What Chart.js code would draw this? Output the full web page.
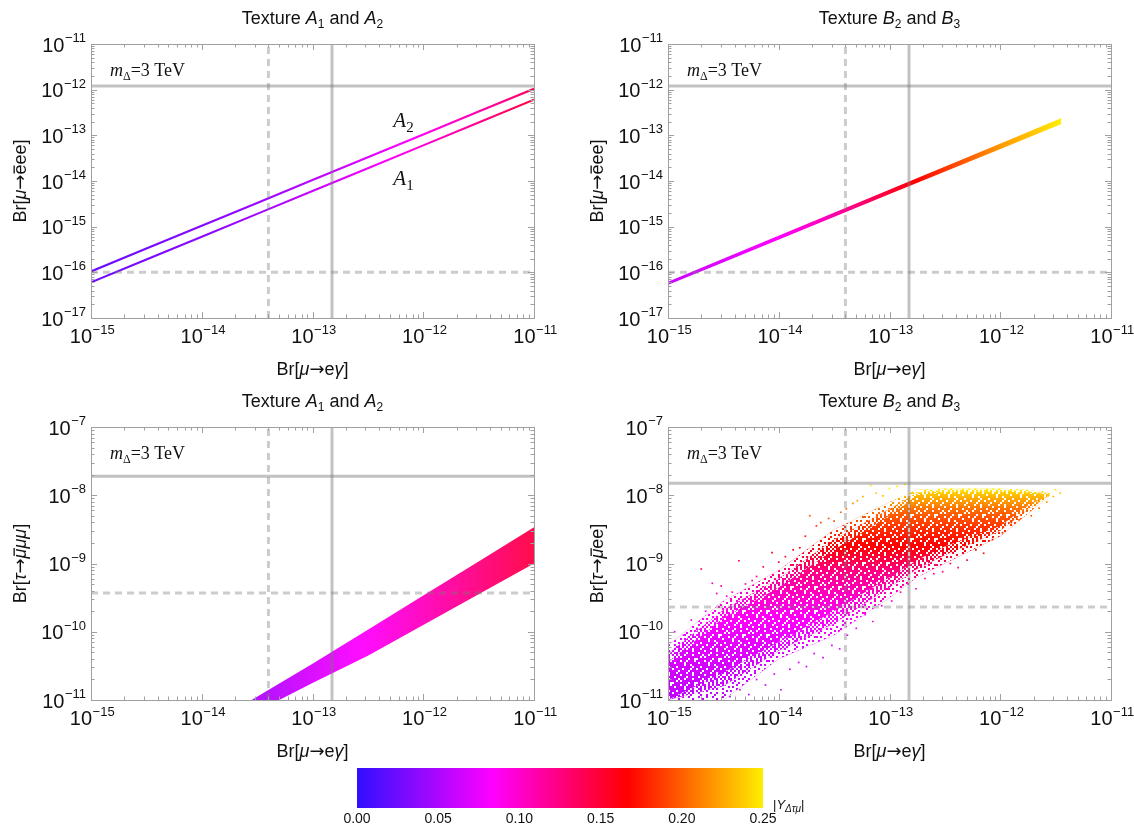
<!DOCTYPE html>
<html><head><meta charset="utf-8">
<script src="https://cdn.jsdelivr.net/npm/chart.js@4.4.1/dist/chart.umd.min.js"></script>
<style>
html,body{margin:0;padding:0;background:#fff;}
#wrap{position:relative;width:1134px;height:825px;overflow:hidden;background:#fff;}
#wrap canvas{position:absolute;left:0;top:0;}
#cb{left:340px !important;top:755px !important;}
</style></head><body><div id="wrap">
<canvas id="c1" width="1134" height="825"></canvas>
<canvas id="c2" width="1134" height="825"></canvas>
<canvas id="c3" width="1134" height="825"></canvas>
<canvas id="c4" width="1134" height="825"></canvas>
<canvas id="cb" width="480" height="70"></canvas>
</div>
<script>
// ================= DATA (log10 exponents unless noted) =================
const xDecades = [-15, -14, -13, -12, -11];
const yDecadesTop = [-17, -16, -15, -14, -13, -12, -11];
const yDecadesBottom = [-11, -10, -9, -8, -7];
const colorbarTicks = [0, 0.05, 0.10, 0.15, 0.20, 0.25];

// experimental bounds (absolute values)
const megBound = 1.5e-13, megFuture = 4.0e-14;            // Br[mu -> e gamma]
const mu3eBound = 1.2e-12, mu3eFuture = 1.0e-16;          // Br[mu -> eee]
const tau3muBound = 1.9e-8, tau3muFuture = 3.7e-10;       // Br[tau -> 3 mu]
const taumueeBound = 1.5e-8, taumueeFuture = 2.3e-10;     // Br[tau -> mu e e]

// Panel 1: textures A1, A2 (thin lines)
const aLogX  = [-15, -14.5, -14, -13.5, -13, -12.5, -12, -11.5, -11];
const a2LogY = [-15.98, -15.48, -14.98, -14.48, -13.98, -13.48, -12.98, -12.48, -11.98];
const a2Yuk  = [0.023, 0.028, 0.034, 0.042, 0.055, 0.070, 0.088, 0.110, 0.138];
const a1LogY = [-16.22, -15.72, -15.22, -14.72, -14.22, -13.72, -13.22, -12.72, -12.22];
const a1Yuk  = [0.025, 0.030, 0.037, 0.046, 0.060, 0.077, 0.097, 0.120, 0.148];
const labelA2 = [-12.27, -12.82];
const labelA1 = [-12.27, -14.09];

// Panel 2: textures B2, B3 (narrow band)
const trLogX   = [-15, -14.5, -14, -13.5, -13, -12.5, -12, -11.45];
const trUpper  = [-16.22, -15.715, -15.212, -14.71, -14.205, -13.70, -13.195, -12.64];
const trLower  = [-16.26, -15.765, -15.268, -14.77, -14.275, -13.78, -13.285, -12.74];
const trYuk    = [0.062, 0.070, 0.085, 0.110, 0.150, 0.185, 0.220, 0.250];

// Panel 3: textures A1, A2 (dense band, tau -> 3 mu)
const blLogX  = [-13.55, -13.3, -13, -12.5, -12, -11.5, -11];
const blUpper = [-11.0, -10.76, -10.47, -9.97, -9.47, -8.97, -8.47];
const blLower = [-11.0, -11.0, -10.75, -10.35, -9.90, -9.45, -9.00];
const blYuk   = [0.050, 0.057, 0.068, 0.085, 0.105, 0.125, 0.145];

// Panel 4: textures B2, B3 (scatter cloud, tau -> mu e e): outer / middle / core envelopes
const brLogX       = [-15, -14.5, -14, -13.5, -13, -12.75, -12.5, -12, -11.75, -11.55];
const brOuterUpper = [-10.2, -9.55, -9.1, -8.5, -8.1, -7.92, -7.9, -7.9, -7.92, -7.97];
const brOuterLower = [-11, -11, -10.4, -10.05, -9.5, -9.2, -9.0, -8.6, -8.27, -8.0];
const brMidUpper   = [-10.32, -9.68, -9.22, -8.65, -8.2, -7.96, -7.92, -7.92, -7.94, -7.98];
const brMidLower   = [-11, -10.8, -10.28, -9.88, -9.35, -9.08, -8.88, -8.52, -8.21, -8.0];
const brCoreUpper  = [-10.45, -9.8, -9.35, -8.8, -8.3, -8.0, -7.95, -7.95, -7.96, -7.99];
const brCoreLower  = [-11, -10.6, -10.15, -9.7, -9.2, -8.95, -8.75, -8.45, -8.15, -8.0];
const brColorLogY  = [-11, -10.5, -10, -9.6, -9.1, -8.8, -8.5, -8.2, -8.0, -7.9];
const brColorYuk   = [0.058, 0.066, 0.077, 0.094, 0.125, 0.162, 0.182, 0.206, 0.233, 0.250];
const brScatter = [
 [-14.94,-10.0],[-14.86,-10.05],[-14.79,-9.83],[-14.74,-9.95],[-14.7,-9.08],[-14.66,-9.7],[-14.6,-9.29],
 [-14.56,-9.44],[-14.52,-9.33],[-14.47,-9.48],[-14.42,-9.42],[-14.36,-8.96],[-14.3,-9.3],[-14.24,-9.25],
 [-14.2,-9.19],[-14.14,-9.05],[-14.06,-8.84],[-14.0,-8.98],[-13.94,-8.9],[-13.87,-8.8],[-13.81,-8.77],
 [-13.76,-8.6],[-13.72,-8.30],[-13.66,-8.45],[-13.62,-8.4],[-13.55,-8.34],[-13.5,-8.38],[-13.44,-8.25],
 [-13.39,-8.2],[-13.33,-8.12],[-13.29,-8.08],[-13.24,-8.02],[-13.17,-7.86],[-13.12,-7.97],[-13.06,-8.01],
 [-13.0,-7.9],[-12.93,-7.87],[-12.86,-7.84],
 [-14.44,-10.95],[-14.35,-10.85],[-14.27,-10.92],[-14.2,-10.7],[-14.12,-10.78],[-14.04,-10.62],[-13.98,-10.85],
 [-13.9,-10.55],[-13.82,-10.45],[-13.75,-10.51],[-13.68,-10.32],[-13.6,-10.38],[-13.52,-10.2],[-13.45,-10.25],
 [-13.38,-10.05],[-13.3,-9.95],[-13.22,-9.75],[-13.15,-9.85],[-13.07,-9.62],[-12.98,-9.55],[-12.9,-9.42],
 [-12.83,-9.3],[-12.76,-9.37],[-12.68,-9.22],[-12.6,-9.15],[-12.52,-9.12],[-12.45,-9.0],[-12.38,-9.06],
 [-12.3,-8.95],[-12.22,-8.8],[-12.15,-8.85],[-12.07,-8.65],[-11.98,-8.55],[-11.9,-8.4],[-11.83,-8.36],
 [-11.72,-8.3],[-11.65,-8.19],[-11.58,-8.1],[-11.52,-8.02],[-11.46,-7.97],[-11.5,-7.92],[-11.62,-7.95]
];

// ================= styling helpers =================
const W = 1134, H = 825;
const SANS = '"Liberation Sans", Arial, sans-serif';
const SERIF = '"Liberation Serif", "Times New Roman", serif';
const ARROWF = '18px "DejaVu Sans", sans-serif';
const P = e => Math.pow(10, e);
const cmapStops = [[0, [48, 16, 255]], [0.25/3, [255, 0, 255]], [0.5/3, [255, 0, 0]], [0.25, [255, 238, 0]]];
function colorOf(v, a) {
  if (a === undefined) a = 1;
  v = Math.max(0, Math.min(0.25, v));
  for (let i = 0; i < cmapStops.length - 1; i++) {
    const v0 = cmapStops[i][0], c0 = cmapStops[i][1], v1 = cmapStops[i+1][0], c1 = cmapStops[i+1][1];
    if (v <= v1 + 1e-12) {
      const t = (v - v0) / (v1 - v0);
      const c = c0.map((c, k) => Math.round(c + (c1[k] - c) * t));
      return `rgba(${c[0]},${c[1]},${c[2]},${a})`;
    }
  }
  return `rgba(255,238,0,${a})`;
}
function lerpTable(xs, ys, x) {
  if (x <= xs[0]) return ys[0];
  for (let i = 0; i < xs.length - 1; i++) {
    if (x <= xs[i+1]) { const t = (x - xs[i]) / (xs[i+1] - xs[i]); return ys[i] + (ys[i+1] - ys[i]) * t; }
  }
  return ys[ys.length - 1];
}
function hGrad(chart, logXs, vals, alpha) {
  const ca = chart.chartArea;
  if (!ca) return colorOf(vals[0], alpha);
  const xs = chart.scales.x;
  const p0 = xs.getPixelForValue(P(logXs[0])), p1 = xs.getPixelForValue(P(logXs[logXs.length - 1]));
  const g = chart.ctx.createLinearGradient(p0, 0, p1, 0);
  for (let i = 0; i < logXs.length - 1; i++) {
    for (let s = 0; s < 6; s++) {
      const lx = logXs[i] + (logXs[i+1] - logXs[i]) * s / 6;
      const v = vals[i] + (vals[i+1] - vals[i]) * s / 6;
      g.addColorStop(Math.min(1, Math.max(0, (xs.getPixelForValue(P(lx)) - p0) / (p1 - p0))), colorOf(v, alpha));
    }
  }
  g.addColorStop(1, colorOf(vals[vals.length - 1], alpha));
  return g;
}
function vGradBR(chart, alpha) {
  const ca = chart.chartArea;
  if (!ca) return colorOf(0.15, alpha);
  const ys = chart.scales.y;
  const top = brColorLogY[brColorLogY.length - 1], bot = brColorLogY[0];
  const p0 = ys.getPixelForValue(P(top)), p1 = ys.getPixelForValue(P(bot));
  const g = chart.ctx.createLinearGradient(0, p0, 0, p1);
  for (let k = 0; k <= 60; k++) {
    const ly = top + (bot - top) * k / 60;
    g.addColorStop((ys.getPixelForValue(P(ly)) - p0) / (p1 - p0), colorOf(lerpTable(brColorLogY, brColorYuk, ly), alpha));
  }
  return g;
}
// white speckle textures (style only): 'x' = white cell, '.' = see-through
const speckleOuter = ["x.xxx.xx.xxx","xxx.xxxxxx.x",".xxxx.x.xxxx","xx.xxxxxx.x.","x.xx.xx.xxxx","xxxxxx.xx.xx",
                      ".x.xxxxx.xx.","xxxx.x.xxxxx","x.xxxxxx.x.x","xxx.x.xxxxxx","x.xxxxx.xx.x","xx.xx.xxx.xx"];
const speckleMid   = ["x.x..x.xx.x.",".xx.x.x..x.x","x..x.xx.x.x.",".x.x..x.x..x","x.x.x.x..x.x","..x.xx.x.x.x",
                      "x.x..x.x.x..",".x.x.x..x.xx","x..x.x.x.x.x",".x.xx.x.x..x","x.x.x..x.x.x",".x..x.x.x.x."];
const speckleCore  = ["..x....x..x.","....x.....x.",".x.....x....","...x..x...x.","..x.x.......","x.......x..x",
                      "....x..x...x",".x....x.....","......x..x..","..x.......x.","x....x...x..","...x....x..."];
const patCache = {};
function speckle(chart, rows, key) {
  if (patCache[key]) return patCache[key];
  const cell = 2, c = document.createElement('canvas');
  c.width = rows[0].length * cell; c.height = rows.length * cell;
  const g = c.getContext('2d'); g.fillStyle = '#ffffff';
  rows.forEach((r, i) => [...r].forEach((ch, j) => { if (ch === 'x') g.fillRect(j * cell, i * cell, cell, cell); }));
  patCache[key] = chart.ctx.createPattern(c, 'repeat');
  return patCache[key];
}
const pts = (lxs, lys) => lxs.map((lx, i) => ({x: P(lx), y: P(lys[i])}));

function refLines(yMinE, yMaxE, hSolid, hDash) {
  const xMin = P(xDecades[0]), xMax = P(xDecades[xDecades.length - 1]);
  const solid = {borderColor: 'rgba(120,120,120,0.45)', borderWidth: 3};
  const dash = {borderColor: 'rgba(120,120,120,0.38)', borderWidth: 3, borderDash: [7, 5]};
  return [
    Object.assign({data: [{x: xMin, y: hSolid}, {x: xMax, y: hSolid}]}, solid),
    Object.assign({data: [{x: xMin, y: hDash}, {x: xMax, y: hDash}]}, dash),
    Object.assign({data: [{x: megBound, y: P(yMinE)}, {x: megBound, y: P(yMaxE)}]}, solid),
    Object.assign({data: [{x: megFuture, y: P(yMinE)}, {x: megFuture, y: P(yMaxE)}]}, dash)
  ].map(d => Object.assign(d, {pointRadius: 0, fill: false, order: 0}));
}

function drawRuns(ctx, runs, x, y, align) {
  let total = 0;
  for (const r of runs) { ctx.font = r.f; r._w = ctx.measureText(r.t).width; total += r._w; }
  let cx = align === 'center' ? x - total / 2 : (align === 'right' ? x - total : x);
  for (const r of runs) {
    ctx.font = r.f;
    ctx.fillText(r.t, cx, y + (r.dy || 0));
    if (r.over) ctx.fillRect(cx + r.over[0], y - r.over[1], r._w - r.over[0] - r.over[2], 1.3);
    cx += r._w;
  }
}
function drawPow(ctx, e, x, y, align) {
  const base = '10', ex = '\u2212' + Math.abs(e);
  ctx.font = `20px ${SANS}`; const w1 = ctx.measureText(base).width;
  ctx.font = `13px ${SANS}`; const w2 = ctx.measureText(ex).width;
  const x0 = align === 'right' ? x - w1 - w2 - 0.5 : x - (w1 + w2) / 2;
  ctx.font = `20px ${SANS}`; ctx.fillText(base, x0, y);
  ctx.font = `13px ${SANS}`; ctx.fillText(ex, x0 + w1 + 0.5, y - 9.5);
}

const f18 = `18px ${SANS}`, i18 = `italic 18px ${SANS}`, s12 = `12px ${SANS}`;
function titleRuns(letter, a, b) {
  return [{t: 'Texture ', f: f18}, {t: letter, f: i18}, {t: a, f: s12, dy: 4},
          {t: ' and ', f: f18}, {t: letter, f: i18}, {t: b, f: s12, dy: 4}];
}
const xTitleRuns = () => [{t: 'Br[', f: f18}, {t: '\u03bc', f: i18}, {t: '\u2192', f: ARROWF},
                          {t: 'e', f: f18}, {t: '\u03b3', f: i18}, {t: ']', f: f18}];
const yTitleMu3e = () => [{t: 'Br[', f: f18}, {t: '\u03bc', f: i18}, {t: '\u2192', f: ARROWF},
                          {t: 'e', f: f18, over: [1, 12.5, 1]}, {t: 'ee]', f: f18}];
const yTitleTau3mu = () => [{t: 'Br[', f: f18}, {t: '\u03c4', f: i18}, {t: '\u2192', f: ARROWF},
                          {t: '\u03bc', f: i18, over: [2.5, 12.5, -0.5]}, {t: '\u03bc\u03bc', f: i18}, {t: ']', f: f18}];
const yTitleTauMuee = () => [{t: 'Br[', f: f18}, {t: '\u03c4', f: i18}, {t: '\u2192', f: ARROWF},
                          {t: '\u03bc', f: i18, over: [2.5, 12.5, -0.5]}, {t: 'ee]', f: f18}];
const massRuns = () => [{t: 'm', f: `italic 18px ${SERIF}`}, {t: '\u0394', f: `12px ${SERIF}`, dy: 4},
                        {t: '=3 TeV', f: `18px ${SERIF}`}];

function decor(cfg) {
  return {
    id: 'decor_' + cfg.id,
    afterDraw(chart) {
      const ctx = chart.ctx, xs = chart.scales.x, ys = chart.scales.y, a = chart.chartArea;
      ctx.save();
      ctx.fillStyle = '#111'; ctx.textAlign = 'left'; ctx.textBaseline = 'alphabetic';
      ctx.strokeStyle = '#a0a0a0'; ctx.lineWidth = 1;
      ctx.strokeRect(Math.round(a.left) + 0.5, Math.round(a.top) + 0.5, Math.round(a.right - a.left), Math.round(a.bottom - a.top));
      ctx.beginPath();
      const yD = cfg.yDec;
      for (let d = xDecades[0]; d <= xDecades[xDecades.length - 1]; d++) {
        for (let m = 1; m <= 9; m++) {
          if (d === xDecades[xDecades.length - 1] && m > 1) break;
          const px = Math.round(xs.getPixelForValue(m * P(d))) + 0.5;
          const len = m === 1 ? 6 : 3.5;
          ctx.moveTo(px, a.bottom); ctx.lineTo(px, a.bottom - len);
          ctx.moveTo(px, a.top); ctx.lineTo(px, a.top + len);
        }
      }
      for (let d = yD[0]; d <= yD[yD.length - 1]; d++) {
        for (let m = 1; m <= 9; m++) {
          if (d === yD[yD.length - 1] && m > 1) break;
          const py = Math.round(ys.getPixelForValue(m * P(d))) + 0.5;
          const len = m === 1 ? 6 : 3.5;
          ctx.moveTo(a.left, py); ctx.lineTo(a.left + len, py);
          ctx.moveTo(a.right, py); ctx.lineTo(a.right - len, py);
        }
      }
      ctx.stroke();
      for (const d of yD) drawPow(ctx, d, a.left - 5, ys.getPixelForValue(P(d)) + 7.5, 'right');
      for (const d of xDecades) drawPow(ctx, d, xs.getPixelForValue(P(d)) + 1, a.bottom + 25, 'center');
      const cx = (a.left + a.right) / 2;
      drawRuns(ctx, cfg.title, cx, a.top - 20, 'center');
      drawRuns(ctx, xTitleRuns(), cx, a.bottom + 57, 'center');
      ctx.save();
      ctx.translate(cfg.yTitleX, (a.top + a.bottom) / 2);
      ctx.rotate(-Math.PI / 2);
      drawRuns(ctx, cfg.yTitle, 0, 0, 'center');
      ctx.restore();
      drawRuns(ctx, massRuns(), a.left + 19, a.top + 32, 'left');
      if (cfg.extra) cfg.extra(chart, ctx);
      ctx.restore();
    }
  };
}

function makePanel(id, g, yDec, datasets, cfg) {
  cfg.yDec = yDec; cfg.id = id;
  return new Chart(document.getElementById(id), {
    type: 'line',
    data: {datasets},
    options: {
      responsive: false, animation: false, devicePixelRatio: 1, events: [],
      layout: {padding: {left: g.L, top: g.T, right: W - g.R, bottom: H - g.B}},
      plugins: {legend: {display: false}, tooltip: {enabled: false}, title: {display: false}},
      scales: {
        x: {type: 'logarithmic', min: P(xDecades[0]), max: P(xDecades[xDecades.length - 1]), display: false},
        y: {type: 'logarithmic', min: P(yDec[0]), max: P(yDec[yDec.length - 1]), display: false}
      },
      elements: {line: {tension: 0}, point: {radius: 0}}
    },
    plugins: [decor(cfg)]
  });
}

// ================= Panel 1 =================
makePanel('c1', {L: 91, R: 534, T: 44, B: 318}, yDecadesTop, [
  ...refLines(yDecadesTop[0], yDecadesTop[yDecadesTop.length - 1], mu3eBound, mu3eFuture),
  {data: pts(aLogX, a2LogY), borderWidth: 2.1, pointRadius: 0, fill: false, order: 2,
   borderColor: c => hGrad(c.chart, aLogX, a2Yuk, 1)},
  {data: pts(aLogX, a1LogY), borderWidth: 2.1, pointRadius: 0, fill: false, order: 2,
   borderColor: c => hGrad(c.chart, aLogX, a1Yuk, 1)}
], {
  title: titleRuns('A', '1', '2'), yTitle: yTitleMu3e(), yTitleX: 26,
  extra(chart, ctx) {
    const xs = chart.scales.x, ys = chart.scales.y;
    const lab = (pos, s) => drawRuns(ctx, [{t: 'A', f: `italic 21px ${SERIF}`}, {t: s, f: `15px ${SERIF}`, dy: 5}],
      xs.getPixelForValue(P(pos[0])), ys.getPixelForValue(P(pos[1])), 'left');
    lab(labelA2, '2'); lab(labelA1, '1');
  }
});

// ================= Panel 2 =================
makePanel('c2', {L: 668, R: 1111, T: 44, B: 318}, yDecadesTop, [
  ...refLines(yDecadesTop[0], yDecadesTop[yDecadesTop.length - 1], mu3eBound, mu3eFuture),
  {data: pts(trLogX, trUpper), borderWidth: 1.2, pointRadius: 0, fill: false, order: 2,
   borderColor: c => hGrad(c.chart, trLogX, trYuk, 1)},
  {data: pts(trLogX, trLower), borderWidth: 1.2, pointRadius: 0, fill: '-1', order: 2,
   borderColor: c => hGrad(c.chart, trLogX, trYuk, 1),
   backgroundColor: c => hGrad(c.chart, trLogX, trYuk, 1)}
], {title: titleRuns('B', '2', '3'), yTitle: yTitleMu3e(), yTitleX: 603});

// ================= Panel 3 =================
makePanel('c3', {L: 91, R: 534, T: 427, B: 700}, yDecadesBottom, [
  ...refLines(yDecadesBottom[0], yDecadesBottom[yDecadesBottom.length - 1], tau3muBound, tau3muFuture),
  {data: pts(blLogX, blUpper), borderWidth: 0, pointRadius: 0, fill: false, order: 2},
  {data: pts(blLogX, blLower), borderWidth: 0, pointRadius: 0, fill: '-1', order: 2,
   backgroundColor: c => hGrad(c.chart, blLogX, blYuk, 0.95)}
], {title: titleRuns('A', '1', '2'), yTitle: yTitleTau3mu(), yTitleX: 26});

// ================= Panel 4 =================
// dataset indices: 0-3 reference lines; 4 outer upper; 5,6 outer fills; 7 mid upper; 8,9 mid fills;
// 10 core upper; 11,12 core fills; 13 scattered points
const noLine = {borderWidth: 0, pointRadius: 0};
makePanel('c4', {L: 668, R: 1111, T: 427, B: 700}, yDecadesBottom, [
  ...refLines(yDecadesBottom[0], yDecadesBottom[yDecadesBottom.length - 1], taumueeBound, taumueeFuture),
  Object.assign({data: pts(brLogX, brOuterUpper), fill: false, order: 20}, noLine),
  Object.assign({data: pts(brLogX, brOuterLower), fill: 4, order: 19, backgroundColor: c => vGradBR(c.chart, 1)}, noLine),
  Object.assign({data: pts(brLogX, brOuterLower), fill: 4, order: 18, backgroundColor: c => speckle(c.chart, speckleOuter, 'o')}, noLine),
  Object.assign({data: pts(brLogX, brMidUpper), fill: false, order: 17}, noLine),
  Object.assign({data: pts(brLogX, brMidLower), fill: 7, order: 16, backgroundColor: c => vGradBR(c.chart, 1)}, noLine),
  Object.assign({data: pts(brLogX, brMidLower), fill: 7, order: 15, backgroundColor: c => speckle(c.chart, speckleMid, 'm')}, noLine),
  Object.assign({data: pts(brLogX, brCoreUpper), fill: false, order: 14}, noLine),
  Object.assign({data: pts(brLogX, brCoreLower), fill: 10, order: 13, backgroundColor: c => vGradBR(c.chart, 1)}, noLine),
  Object.assign({data: pts(brLogX, brCoreLower), fill: 10, order: 12, backgroundColor: c => speckle(c.chart, speckleCore, 'c')}, noLine),
  {data: brScatter.map(p => ({x: P(p[0]), y: P(p[1])})), showLine: false, order: 3,
   pointRadius: 1.2, pointStyle: 'rect', pointBorderWidth: 0,
   pointBackgroundColor: brScatter.map(p => colorOf(lerpTable(brColorLogY, brColorYuk, p[1])))}
], {title: titleRuns('B', '2', '3'), yTitle: yTitleTauMuee(), yTitleX: 603});

// ================= Colour bar =================
new Chart(document.getElementById('cb'), {
  type: 'bar',
  data: {labels: ['Y'], datasets: [{
    data: [[colorbarTicks[0], colorbarTicks[colorbarTicks.length - 1]]],
    barPercentage: 1, categoryPercentage: 1, borderWidth: 0,
    backgroundColor: c => {
      const ch = c.chart; if (!ch.chartArea) return colorOf(0.1);
      const xs = ch.scales.x;
      const p0 = xs.getPixelForValue(0), p1 = xs.getPixelForValue(0.25);
      const g = ch.ctx.createLinearGradient(p0, 0, p1, 0);
      for (let k = 0; k <= 30; k++) g.addColorStop(k / 30, colorOf(0.25 * k / 30));
      return g;
    }
  }]},
  options: {
    indexAxis: 'y', responsive: false, animation: false, devicePixelRatio: 1, events: [],
    layout: {padding: {left: 17, right: 57, top: 13, bottom: 0}},
    plugins: {legend: {display: false}, tooltip: {enabled: false}},
    scales: {
      y: {display: false},
      x: {type: 'linear', min: 0, max: 0.25, grid: {display: false}, border: {display: false},
          afterBuildTicks: s => { s.ticks = colorbarTicks.map(v => ({value: v})); },
          afterFit: s => { s.height = 17; },
          ticks: {display: false}}
    }
  },
  plugins: [{
    id: 'cblabel',
    afterDraw(chart) {
      const ctx = chart.ctx, a = chart.chartArea, xs = chart.scales.x;
      ctx.save(); ctx.fillStyle = '#111'; ctx.textBaseline = 'alphabetic'; ctx.textAlign = 'center';
      ctx.font = `14px ${SANS}`;
      for (const v of colorbarTicks) ctx.fillText(v.toFixed(2), xs.getPixelForValue(v), a.bottom + 15);
      ctx.textAlign = 'left';
      drawRuns(ctx, [{t: '|', f: `13px ${SANS}`}, {t: 'Y', f: `italic 13px ${SANS}`},
                     {t: '\u0394\u03c4\u03bc', f: `italic 10px ${SANS}`, dy: 3}, {t: '|', f: `13px ${SANS}`}],
               a.right + 10, a.bottom + 1, 'left');
      ctx.restore();
    }
  }]
});
</script>
</body></html>
